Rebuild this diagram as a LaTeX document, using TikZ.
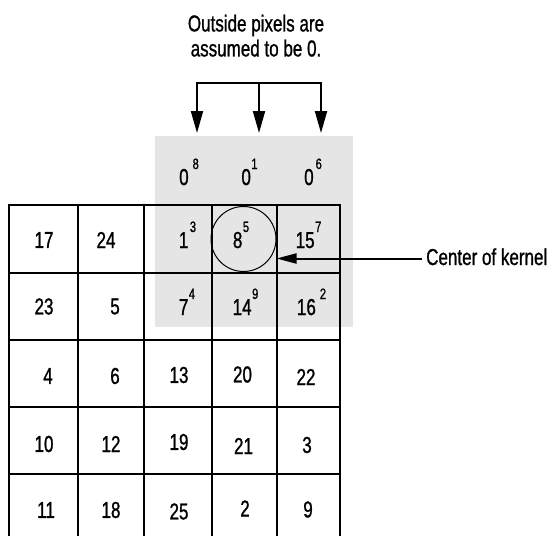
\documentclass[tikz,border=0pt]{standalone}
\usepackage{fontspec}
\setmainfont{Liberation Sans}[FakeStretch=0.74,FakeBold=1]
\usetikzlibrary{arrows.meta}
\newcommand\supn[3][1.5pt]{#2\kern#1\raisebox{16pt}{\fontsize{15}{15}\selectfont #3}}
\begin{document}
\begin{tikzpicture}[x=1pt,y=-1pt,
  lbl/.style={inner sep=0pt, font=\fontsize{23}{25}\selectfont},
  num/.style={lbl, anchor=center},
  knum/.style={lbl, anchor=base},
  gridline/.style={line width=2pt, line cap=rect},
  dropptr/.style={line width=2pt, {Triangle[length=22pt,width=12pt]}-{Triangle[length=22pt,width=12pt]}},
  oneptr/.style={line width=2pt, -{Triangle[length=22pt,width=12pt]}},
  kptr/.style={line width=2pt, -{Triangle[length=20pt,width=10pt]}}]
\useasboundingbox (0,0) rectangle (556,535);
% shaded kernel region
\fill[gray!20] (155,136) rectangle (353,327);
% grid
\foreach \y in {205,273,340,407,474}
  \draw[gridline] (9,\y) -- (340,\y);
\foreach \x in {9,78,144,211.5,276.5,340}
  \draw[gridline] (\x,205) -- (\x,560);
% kernel centre circle
\node[circle, draw, line width=1pt, minimum size=65pt, inner sep=0pt] (ctr) at (243.5,239) {};
% kernel values
\node[knum] (k11) at (189,185)   {\supn[4pt]{0}{8}};
\node[knum] (k12) at (249.5,185) {\supn[0.5pt]{0}{1}};
\node[knum] (k13) at (313,185)   {\supn[2pt]{0}{6}};
\node[knum] (k21) at (187.5,248) {\supn{1}{3}};
\node[knum] (k22) at (241,248)   {\supn[0.5pt]{8}{5}};
\node[knum] (k23) at (308.5,248) {\supn[0.5pt]{15}{7}};
\node[knum] (k31) at (187,315)   {\supn[0.5pt]{7}{4}};
\node[knum] (k32) at (245.5,315) {\supn[0.5pt]{14}{9}};
\node[knum] (k33) at (311.5,315) {\supn[4pt]{16}{2}};
% image values
\node[num] (a11) at (44,240) {17};
\node[num] (a12) at (106,240) {24};
\node[num] (a21) at (44,306.5) {23};
\node[num] (a22) at (115,306.5) {5};
\node[num] (a31) at (48,376) {4};
\node[num] (a32) at (115,376) {6};
\node[num] (a33) at (179,375) {13};
\node[num] (a34) at (242.5,374.5) {20};
\node[num] (a35) at (306,377) {22};
\node[num] (a41) at (44,444) {10};
\node[num] (a42) at (111,444) {12};
\node[num] (a43) at (179,442) {19};
\node[num] (a44) at (243.5,446) {21};
\node[num] (a45) at (307,445) {3};
\node[num] (a51) at (46,510) {11};
\node[num] (a52) at (111,510) {18};
\node[num] (a53) at (179,511.5) {25};
\node[num] (a54) at (245,508.5) {2};
\node[num] (a55) at (308,509.5) {9};
% top note and arrows
\node[lbl, align=center] (note) at (256,35.7) {Outside pixels are\\assumed to be 0.};
\coordinate (b1) at (197,83);
\coordinate (b2) at (259,83);
\coordinate (b3) at (321,83);
\coordinate (t1) at (197,133);
\coordinate (t2) at (259,133);
\coordinate (t3) at (321,133);
\draw[dropptr] (t1) -- (b1) -- (b3) -- (t3);
\draw[oneptr] (b2) -- (t2);
% centre-of-kernel label
\node[lbl, anchor=base west] (clbl) at (426,265) {Center of kernel};
\coordinate (kstart) at (422,258.5);
\draw[kptr] (kstart) -- (ctr.east |- kstart);
\end{tikzpicture}
\end{document}
